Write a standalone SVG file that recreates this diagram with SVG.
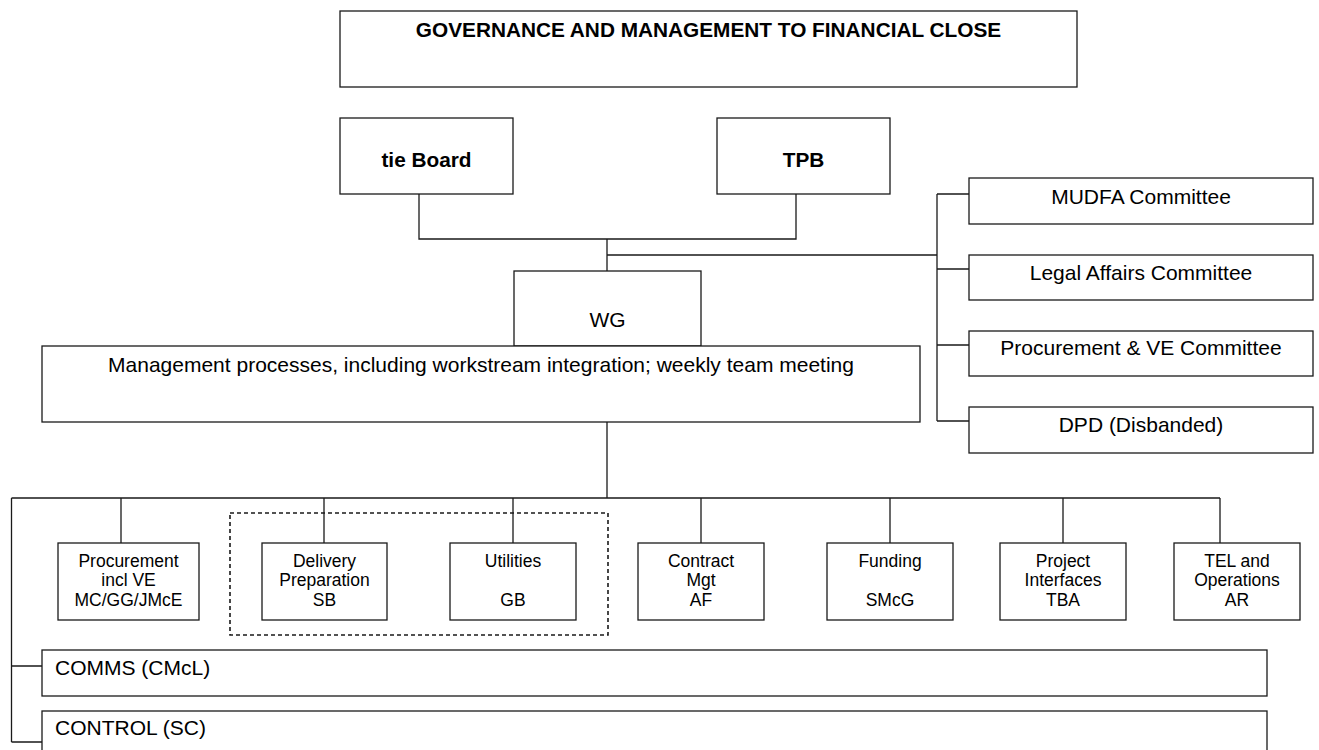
<svg xmlns="http://www.w3.org/2000/svg" width="1319" height="750" viewBox="0 0 1319 750">
<style>
.box{fill:#fff;stroke:#1a1a1a;stroke-width:1.3}
.ln{fill:none;stroke:#1a1a1a;stroke-width:1.3}
.dash{fill:none;stroke:#1a1a1a;stroke-width:1.6;stroke-dasharray:4,3}
text{font-family:"Liberation Sans",Arial,sans-serif;fill:#000;text-anchor:middle}
.b{font-weight:bold;font-size:20.8px}
.m{font-size:21px}
.s{font-size:17.5px}
.l{font-size:21px;text-anchor:start}
</style>
<rect width="1319" height="750" fill="#fff"/>
<g id="connectors">
<path class="ln" d="M419,194V239H796V194M607,239V271M607,255H937M937,194V421M937,194H969M937,269H969M937,345H969M937,421H969"/>
<path class="ln" d="M607,421V498M11.5,498H1220M121,498V543M324,498V543M513,498V543M701,498V543M890,498V543M1063,498V543M1220,498V543M11.5,498V742M11.5,666H42M11.5,742H42"/>
</g>
<g id="title"><rect class="box" x="340" y="11" width="737" height="76"/><text class="b" x="708.5" y="37">GOVERNANCE AND MANAGEMENT TO FINANCIAL CLOSE</text></g>
<g id="tieboard"><rect class="box" x="340" y="118" width="173" height="76"/><text class="b" x="426.5" y="167">tie Board</text></g>
<g id="tpb"><rect class="box" x="717" y="118" width="173" height="76"/><text class="b" x="803.5" y="167">TPB</text></g>
<g id="wg"><rect class="box" x="514" y="271" width="187" height="75"/><text class="m" x="607.5" y="327">WG</text></g>
<g id="management"><rect class="box" x="42" y="346" width="878" height="76"/><text class="m" x="481" y="371.5">Management processes, including workstream integration; weekly team meeting</text></g>
<g id="mudfa"><rect class="box" x="969" y="178" width="344" height="46"/><text class="m" x="1141" y="203.5">MUDFA Committee</text></g>
<g id="legal"><rect class="box" x="969" y="255" width="344" height="45"/><text class="m" x="1141" y="280">Legal Affairs Committee</text></g>
<g id="procve"><rect class="box" x="969" y="331" width="344" height="45"/><text class="m" x="1141" y="355">Procurement &amp; VE Committee</text></g>
<g id="dpd"><rect class="box" x="969" y="407" width="344" height="46"/><text class="m" x="1141" y="432">DPD (Disbanded)</text></g>
<g id="group-dashed"><rect class="dash" x="230" y="513" width="378" height="122"/></g>
<g id="procurement"><rect class="box" x="58" y="543" width="141" height="77"/><text class="s" x="128.5" y="566.5">Procurement</text><text class="s" x="128.5" y="586">incl VE</text><text class="s" x="128.5" y="605.5">MC/GG/JMcE</text></g>
<g id="delivery"><rect class="box" x="262" y="543" width="125" height="77"/><text class="s" x="324.5" y="566.5">Delivery</text><text class="s" x="324.5" y="586">Preparation</text><text class="s" x="324.5" y="605.5">SB</text></g>
<g id="utilities"><rect class="box" x="450" y="543" width="126" height="77"/><text class="s" x="513" y="566.5">Utilities</text><text class="s" x="513" y="605.5">GB</text></g>
<g id="contract"><rect class="box" x="638" y="543" width="126" height="77"/><text class="s" x="701" y="566.5">Contract</text><text class="s" x="701" y="586">Mgt</text><text class="s" x="701" y="605.5">AF</text></g>
<g id="funding"><rect class="box" x="827" y="543" width="126" height="77"/><text class="s" x="890" y="566.5">Funding</text><text class="s" x="890" y="605.5">SMcG</text></g>
<g id="interfaces"><rect class="box" x="1000" y="543" width="126" height="77"/><text class="s" x="1063" y="566.5">Project</text><text class="s" x="1063" y="586">Interfaces</text><text class="s" x="1063" y="605.5">TBA</text></g>
<g id="tel"><rect class="box" x="1174" y="543" width="126" height="77"/><text class="s" x="1237" y="566.5">TEL and</text><text class="s" x="1237" y="586">Operations</text><text class="s" x="1237" y="605.5">AR</text></g>
<g id="comms"><rect class="box" x="42" y="650" width="1225" height="46"/><text class="l" x="55" y="675">COMMS (CMcL)</text></g>
<g id="control"><rect class="box" x="42" y="711" width="1225" height="60"/><text class="l" x="55" y="735">CONTROL (SC)</text></g>
</svg>
